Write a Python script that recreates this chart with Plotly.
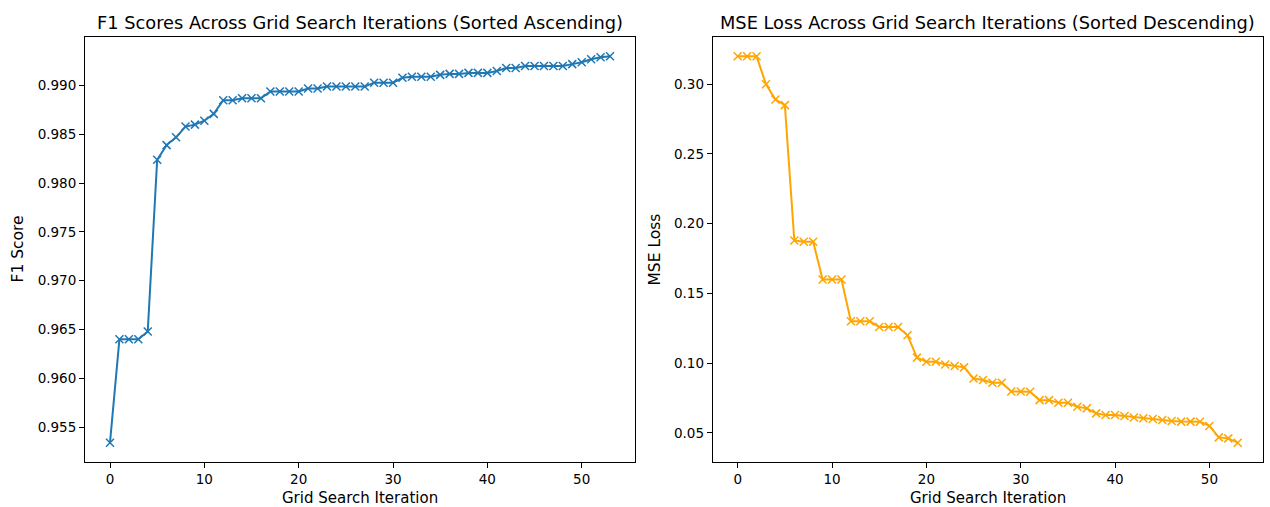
import plotly.graph_objects as go

iterations = list(range(54))

f1_scores = [
    0.9534, 0.9640, 0.9640, 0.9640, 0.9648, 0.9824, 0.9839, 0.9847, 0.9858, 0.9860,
    0.9864, 0.9871, 0.9885, 0.9885, 0.9887, 0.9887, 0.9887, 0.9894, 0.9894, 0.9894,
    0.9894, 0.9897, 0.9897, 0.9899, 0.9899, 0.9899, 0.9899, 0.9899, 0.9903, 0.9903,
    0.9903, 0.9908, 0.9909, 0.9909, 0.9909, 0.9911, 0.9912, 0.9912, 0.9913, 0.9913,
    0.9913, 0.9915, 0.9918, 0.9918, 0.9920, 0.9920, 0.9920, 0.9920, 0.9920, 0.9922,
    0.9924, 0.9927, 0.9929, 0.9930,
]

mse_losses = [
    0.320, 0.320, 0.320, 0.300, 0.289, 0.285, 0.188, 0.187, 0.187, 0.160,
    0.160, 0.160, 0.130, 0.130, 0.130, 0.126, 0.126, 0.126, 0.120, 0.104,
    0.101, 0.101, 0.099, 0.098, 0.097, 0.089, 0.088, 0.086, 0.086, 0.0797,
    0.0797, 0.0795, 0.0735, 0.0735, 0.0716, 0.0716, 0.0687, 0.0676, 0.064, 0.0628,
    0.0628, 0.0621, 0.061, 0.0605, 0.060, 0.0593, 0.0586, 0.0581, 0.0581, 0.0580,
    0.055, 0.0468, 0.0461, 0.043,
]

left_title = "F1 Scores Across Grid Search Iterations (Sorted Ascending)"
right_title = "MSE Loss Across Grid Search Iterations (Sorted Descending)"
x_label = "Grid Search Iteration"
left_ylabel = "F1 Score"
right_ylabel = "MSE Loss"

x_ticks = [0, 10, 20, 30, 40, 50]
f1_ticks = [0.955, 0.960, 0.965, 0.970, 0.975, 0.980, 0.985, 0.990]
mse_ticks = [0.05, 0.10, 0.15, 0.20, 0.25, 0.30]

W, H = 1270, 507
FONT = "DejaVu Sans"


def margin_range(vals):
    lo, hi = min(vals), max(vals)
    pad = (hi - lo) * 0.05
    return [lo - pad, hi + pad]


xr = margin_range(iterations)

fig = go.Figure()
fig.add_trace(go.Scatter(
    x=iterations, y=f1_scores, mode="lines+markers",
    line=dict(color="#1f77b4", width=2),
    marker=dict(symbol="x-thin", size=8, line=dict(color="#1f77b4", width=1.5)),
    xaxis="x", yaxis="y", showlegend=False,
))
fig.add_trace(go.Scatter(
    x=iterations, y=mse_losses, mode="lines+markers",
    line=dict(color="#FFA500", width=2),
    marker=dict(symbol="x-thin", size=8, line=dict(color="#FFA500", width=1.5)),
    xaxis="x2", yaxis="y2", showlegend=False,
))

ax_top, ax_bot = 37, 462
ydom = [(H - ax_bot) / H, (H - ax_top) / H]
L1, R1 = 85, 635
L2, R2 = 712.7, 1262.7

common = dict(
    showline=True, mirror=True, linecolor="black", linewidth=1,
    ticks="outside", ticklen=5, tickwidth=1, tickcolor="black",
    showgrid=False, zeroline=False,
    tickfont=dict(family=FONT, size=13.5, color="black"),
)

fig.update_layout(
    width=W, height=H,
    margin=dict(l=0, r=0, t=0, b=0),
    paper_bgcolor="white", plot_bgcolor="white",
    xaxis=dict(domain=[L1 / W, R1 / W], range=xr, tickvals=x_ticks, anchor="y", **common),
    yaxis=dict(domain=ydom, range=margin_range(f1_scores), tickvals=f1_ticks,
               tickformat=".3f", anchor="x", **common),
    xaxis2=dict(domain=[L2 / W, R2 / W], range=xr, tickvals=x_ticks, anchor="y2", **common),
    yaxis2=dict(domain=ydom, range=margin_range(mse_losses), tickvals=mse_ticks,
                tickformat=".2f", anchor="x2", **common),
)

def ann(text, xpx, ypx, size, angle=0):
    fig.add_annotation(
        text=text, xref="paper", yref="paper", x=xpx / W, y=(H - ypx) / H,
        xanchor="center", yanchor="middle", showarrow=False, textangle=angle,
        font=dict(family=FONT, size=size, color="black"),
    )

ann(left_title, (L1 + R1) / 2, 22, 17.8)
ann(right_title, (L2 + R2) / 2, 22, 17.8)
ann(x_label, (L1 + R1) / 2, 498, 15)
ann(x_label, (L2 + R2) / 2, 498, 15)
ann(left_ylabel, 18, (ax_top + ax_bot) / 2, 15.5, -90)
ann(right_ylabel, 655, (ax_top + ax_bot) / 2, 15.5, -90)

fig.write_html("out.html")
